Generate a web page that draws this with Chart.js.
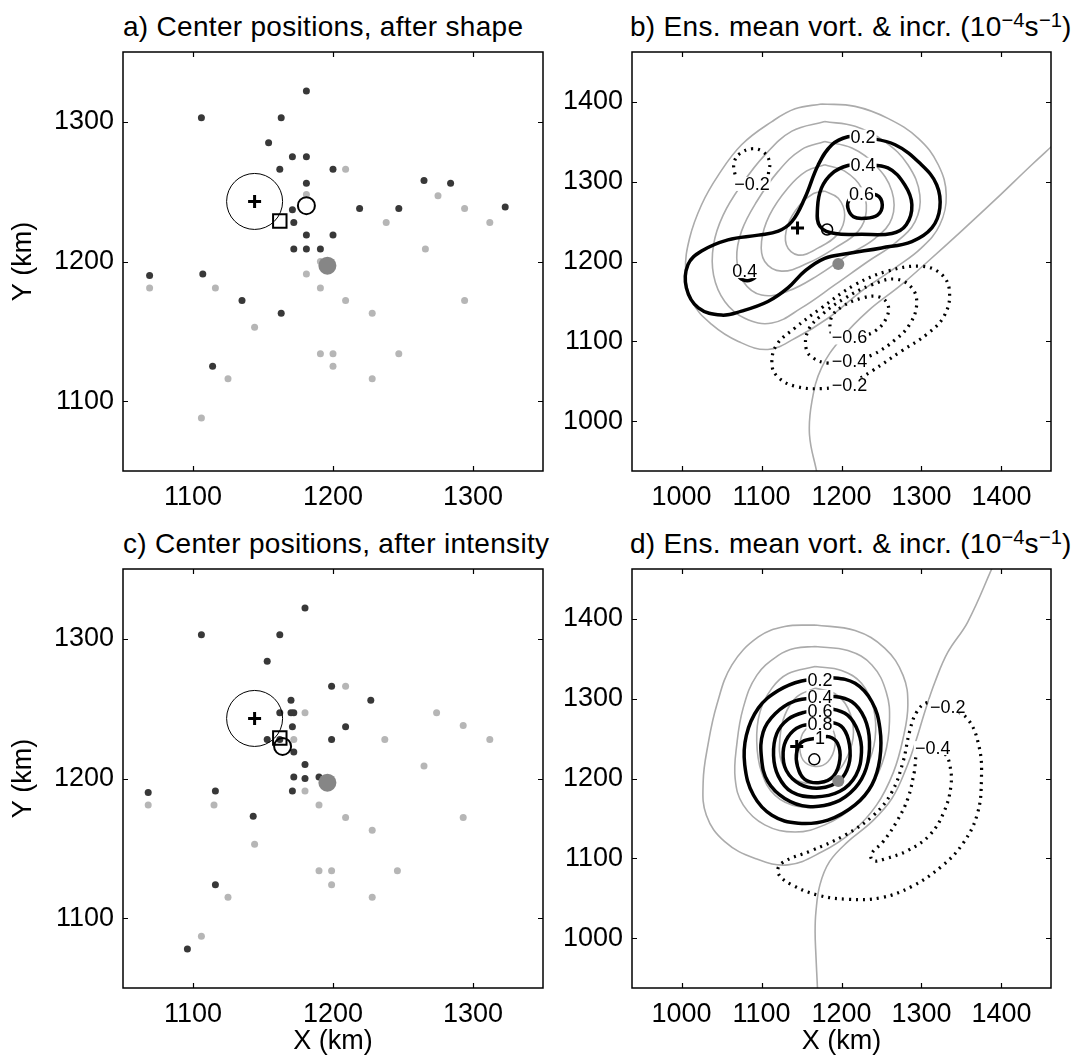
<!DOCTYPE html>
<html>
<head>
<meta charset="utf-8">
<script src="https://cdn.jsdelivr.net/npm/chart.js@4.4.0/dist/chart.umd.min.js"></script>
<style>
  body { margin: 0; background: #fff; }
  #fig { position: relative; width: 1073px; height: 1062px; overflow: hidden;
         font-family: "Liberation Sans", Arial, Helvetica, sans-serif; color: #000; }
  #fig canvas { position: absolute; }
  .ttl { position: absolute; font-size: 28px; line-height: 28px; letter-spacing: 0.3px; white-space: nowrap; }
  .ttl .sup { position: relative; top: -0.45em; font-size: 0.72em; letter-spacing: 0; }
</style>
</head>
<body>
<div id="fig">
  <div class="ttl" style="left:123px;top:13px">a) Center positions, after shape</div>
  <div class="ttl" style="left:630px;top:13px">b) Ens. mean vort. &amp; incr. (10<span class="sup">−4</span>s<span class="sup">−1</span>)</div>
  <div class="ttl" style="left:123px;top:530px">c) Center positions, after intensity</div>
  <div class="ttl" style="left:630px;top:530px">d) Ens. mean vort. &amp; incr. (10<span class="sup">−4</span>s<span class="sup">−1</span>)</div>
  <canvas id="pa" width="562" height="531" style="left:0;top:0"></canvas>
  <canvas id="pb" width="528" height="531" style="left:545px;top:0"></canvas>
  <canvas id="pc" width="562" height="531" style="left:0;top:531px"></canvas>
  <canvas id="pd" width="528" height="531" style="left:545px;top:531px"></canvas>
</div>
<script>
const FONT = '"Liberation Sans", Arial, Helvetica, sans-serif';

// axis ticks (km)
const ticksPos = [1100, 1200, 1300];
const ticksVort = [1000, 1100, 1200, 1300, 1400];

// ---- centre positions (km) ----
const membersA = [
  [1181,1322],[1106,1303],[1163,1303],[1154,1285],[1171,1275],[1181,1275],[1162,1266],[1200,1266],
  [1181,1256],[1265,1258],[1284,1256],[1171,1237],[1219,1238],[1247,1238],[1323,1239],[1172,1228],
  [1181,1219],[1200,1219],[1172,1209],[1181,1209],[1191,1209],[1069,1190],[1107,1191],[1135,1172],
  [1163,1163],[1114,1125]
];
const priorA = [
  [1209,1266],[1181,1248],[1275,1247],[1294,1238],[1238,1228],[1312,1228],[1266,1209],[1191,1200],
  [1181,1191],[1069,1181],[1116,1181],[1191,1181],[1209,1172],[1294,1172],[1228,1163],[1144,1153],
  [1191,1134],[1200,1134],[1247,1134],[1200,1125],[1125,1116],[1228,1116],[1106,1088]
];
const membersC = [
  [1180,1322],[1106,1303],[1162,1303],[1153,1284],[1199,1266],[1170,1256],[1227,1256],[1162,1247],
  [1170,1247],[1172,1247],[1171,1237],[1209,1237],[1153,1228],[1162,1228],[1199,1228],[1172,1219],
  [1180,1210],[1172,1201],[1180,1200],[1190,1201],[1068,1190],[1116,1191],[1171,1191],[1143,1173],
  [1116,1124],[1096,1078]
];
const priorC = [
  [1209,1266],[1180,1247],[1274,1247],[1293,1238],[1172,1228],[1237,1228],[1312,1228],[1265,1209],
  [1180,1191],[1068,1181],[1115,1181],[1190,1181],[1209,1172],[1293,1172],[1228,1163],[1144,1153],
  [1190,1134],[1199,1134],[1246,1134],[1199,1124],[1125,1115],[1228,1115],[1106,1087]
];
const truthA = [1144,1243], obsA = [1162,1229], meanA = [1181,1240], firstGuess = [1196,1197];
const truthC = [1144,1243], obsC = [1162,1229], meanC = [1164,1223];
const meanB = [1182,1240], meanD = [1166,1224], truthB = [1145,1242], truthD = [1144,1240];

// ---- panel b contours (km) ----
const vortB = [
  [[1175,1397],[1217,1394],[1258,1379],[1296,1354],[1321,1321],[1331,1283],[1323,1246],[1300,1217],[1267,1192],[1225,1163],[1183,1129],[1142,1104],[1108,1090],[1071,1100],[1038,1121],[1013,1150],[1005,1188],[1010,1229],[1025,1271],[1046,1308],[1075,1346],[1113,1375],[1142,1391]],
  [[1179,1375],[1217,1369],[1254,1350],[1283,1321],[1298,1283],[1292,1250],[1267,1223],[1233,1200],[1192,1171],[1150,1142],[1113,1123],[1079,1129],[1054,1150],[1040,1183],[1040,1221],[1052,1258],[1075,1296],[1104,1333],[1138,1363]],
  [[1179,1350],[1213,1342],[1242,1321],[1263,1288],[1263,1254],[1242,1229],[1208,1208],[1171,1183],[1133,1163],[1100,1158],[1077,1175],[1069,1204],[1075,1238],[1094,1275],[1121,1313],[1150,1340]],
  [[1179,1321],[1204,1313],[1225,1292],[1231,1263],[1221,1238],[1192,1217],[1158,1198],[1125,1188],[1104,1200],[1100,1225],[1110,1258],[1133,1292],[1156,1313]],
  [[1179,1288],[1196,1279],[1204,1258],[1196,1235],[1171,1217],[1146,1208],[1131,1221],[1133,1246],[1148,1271],[1165,1285]]
];
const zeroB = [[1169,937],[1160,983],[1163,1025],[1175,1067],[1200,1104],[1233,1138],[1275,1171],[1308,1200],[1350,1238],[1392,1277],[1438,1321],[1464,1345]];
const incrPosB = [
  [[1227,1356],[1267,1346],[1300,1321],[1319,1296],[1323,1267],[1313,1242],[1288,1225],[1250,1217],[1208,1210],[1179,1204],[1154,1188],[1133,1167],[1108,1150],[1075,1138],[1050,1133],[1021,1142],[1006,1167],[1008,1196],[1025,1213],[1058,1227],[1096,1233],[1121,1238],[1138,1250],[1154,1279],[1171,1321],[1188,1346],[1208,1356]],
  [[1227,1321],[1258,1317],[1279,1296],[1288,1271],[1281,1246],[1263,1235],[1225,1234],[1192,1235],[1173,1244],[1170,1267],[1175,1292],[1188,1310],[1208,1320]],
  [[1079,1187],[1071,1183],[1077,1177],[1087,1177],[1093,1183],[1088,1188]],
  [[1225,1284],[1244,1283],[1251,1271],[1245,1258],[1229,1254],[1215,1256],[1208,1267],[1210,1278],[1219,1283]]
];
const incrNegB = [
  [[1088,1297],[1071,1302],[1066,1313],[1066,1325],[1073,1335],[1088,1341],[1102,1337],[1110,1325],[1109,1313],[1106,1302]],
  [[1210,1046],[1175,1041],[1142,1044],[1121,1055],[1113,1071],[1119,1096],[1142,1117],[1175,1142],[1217,1171],[1258,1188],[1300,1194],[1325,1184],[1335,1163],[1329,1133],[1308,1110],[1275,1088],[1238,1063]],
  [[1210,1075],[1183,1073],[1165,1079],[1156,1090],[1158,1113],[1175,1133],[1204,1154],[1238,1171],[1267,1178],[1288,1167],[1294,1146],[1285,1121],[1267,1102],[1238,1083]],
  [[1210,1105],[1196,1103],[1188,1108],[1187,1129],[1200,1143],[1225,1154],[1246,1156],[1258,1146],[1256,1129],[1242,1113],[1222,1106]]
];
const labelsB = [
  ['0.2',1227,1356],['0.4',1227,1321],['0.6',1225,1284],['0.4',1079,1188],
  ['−0.2',1088,1297],['−0.6',1210,1105],['−0.4',1210,1075],['−0.2',1210,1046]
];

// ---- panel d contours (km) ----
const vortD = [
  [[1167,1392],[1217,1385],[1254,1363],[1277,1329],[1283,1292],[1277,1250],[1265,1208],[1244,1167],[1213,1133],[1175,1108],[1133,1092],[1092,1100],[1054,1121],[1031,1154],[1027,1196],[1033,1242],[1044,1292],[1063,1342],[1096,1377],[1129,1390]],
  [[1167,1365],[1208,1360],[1238,1342],[1256,1308],[1260,1271],[1254,1229],[1238,1192],[1213,1163],[1179,1142],[1142,1133],[1104,1142],[1077,1167],[1067,1200],[1069,1242],[1077,1288],[1094,1329],[1121,1354],[1142,1363]],
  [[1167,1340],[1200,1335],[1225,1319],[1240,1288],[1242,1250],[1231,1213],[1210,1183],[1179,1167],[1146,1165],[1117,1179],[1100,1208],[1094,1246],[1098,1283],[1113,1313],[1133,1331]],
  [[1167,1313],[1192,1306],[1208,1288],[1215,1258],[1208,1229],[1190,1204],[1165,1194],[1140,1200],[1125,1221],[1123,1250],[1129,1279],[1144,1302]],
  [[1173,1271],[1188,1263],[1192,1242],[1183,1221],[1167,1215],[1152,1223],[1148,1242],[1154,1260]]
];
const zeroD = [[1170,937],[1168,979],[1167,1008],[1168,1033],[1173,1067],[1185,1096],[1208,1121],[1238,1146],[1263,1175],[1281,1213],[1294,1250],[1304,1283],[1317,1321],[1333,1358],[1358,1396],[1390,1467]];
const incrPosD = [
  [[1173,1323],[1188,1326],[1217,1319],[1238,1296],[1248,1263],[1248,1225],[1238,1192],[1217,1167],[1183,1148],[1146,1144],[1113,1154],[1090,1179],[1079,1217],[1081,1254],[1096,1288],[1121,1310],[1150,1322]],
  [[1173,1301],[1188,1303],[1213,1296],[1229,1275],[1235,1246],[1231,1213],[1217,1188],[1192,1170],[1158,1165],[1129,1175],[1108,1196],[1100,1225],[1102,1258],[1117,1281],[1142,1297]],
  [[1173,1285],[1188,1287],[1208,1279],[1221,1258],[1225,1233],[1218,1204],[1198,1184],[1167,1177],[1138,1183],[1121,1203],[1115,1229],[1119,1256],[1133,1274],[1154,1283]],
  [[1173,1268],[1188,1270],[1202,1263],[1210,1242],[1209,1217],[1197,1197],[1173,1188],[1148,1193],[1131,1210],[1127,1233],[1133,1252],[1148,1265]],
  [[1173,1251],[1185,1252],[1195,1244],[1198,1224],[1190,1203],[1173,1195],[1154,1199],[1145,1215],[1144,1233],[1151,1246]]
];
const incrNegD = [
  [[1333,1290],[1308,1295],[1294,1283],[1285,1258],[1277,1221],[1263,1183],[1240,1154],[1204,1129],[1163,1110],[1125,1094],[1121,1081],[1138,1067],[1171,1054],[1208,1049],[1250,1051],[1288,1065],[1325,1090],[1352,1119],[1370,1156],[1375,1200],[1372,1240],[1358,1274]],
  [[1314,1238],[1296,1233],[1291,1208],[1283,1175],[1269,1146],[1252,1121],[1237,1105],[1240,1097],[1256,1100],[1283,1110],[1310,1129],[1328,1158],[1337,1192],[1335,1219],[1329,1231]]
];
const labelsD = [
  ['0.2',1173,1323],['0.4',1173,1302],['0.6',1173,1285],['0.8',1173,1268],['1',1173,1251],
  ['−0.2',1333,1290],['−0.4',1314,1238]
];

const xyPts = arr => arr.map(([x, y]) => ({ x, y }));
const loop = arr => xyPts(arr.concat([arr[0]]));

// box with inward ticks on all four sides
const framePlugin = {
  id: 'frame',
  afterDraw(chart) {
    const { ctx, chartArea: a, scales: { x, y } } = chart;
    ctx.save();
    ctx.strokeStyle = '#000';
    ctx.lineWidth = 1.5;
    ctx.strokeRect(a.left, a.top, a.right - a.left, a.bottom - a.top);
    ctx.beginPath();
    x.ticks.forEach(t => {
      const p = Math.round(x.getPixelForValue(t.value)) + 0.5;
      ctx.moveTo(p, a.bottom); ctx.lineTo(p, a.bottom - 5);
      ctx.moveTo(p, a.top); ctx.lineTo(p, a.top + 5);
    });
    y.ticks.forEach(t => {
      const p = Math.round(y.getPixelForValue(t.value)) + 0.5;
      ctx.moveTo(a.left, p); ctx.lineTo(a.left + 5, p);
      ctx.moveTo(a.right, p); ctx.lineTo(a.right - 5, p);
    });
    ctx.lineWidth = 1.2;
    ctx.stroke();
    ctx.restore();
  }
};

// inline contour labels
const labelPlugin = {
  id: 'clabels',
  afterDatasetsDraw(chart, args, opts) {
    const items = opts.items || [];
    if (!items.length) return;
    const { ctx, scales: { x, y } } = chart;
    ctx.save();
    ctx.font = '18px ' + FONT;
    ctx.textAlign = 'center';
    ctx.textBaseline = 'middle';
    items.forEach(([txt, vx, vy]) => {
      const px = x.getPixelForValue(vx), py = y.getPixelForValue(vy);
      const w = ctx.measureText(txt).width;
      ctx.fillStyle = '#fff';
      ctx.fillRect(px - w / 2 - 1, py - 7, w + 2, 14);
      ctx.fillStyle = '#000';
      ctx.fillText(txt, px, py + 1);
    });
    ctx.restore();
  }
};

const fixedTicks = vals => s => { s.ticks = vals.map(v => ({ value: v })); };
const tickFont = { family: FONT, size: 27 };

function options(cfg) {
  return {
    responsive: false,
    animation: false,
    events: [],
    layout: { autoPadding: false, padding: { left: 0, top: cfg.padTop, right: cfg.padRight, bottom: 0 } },
    plugins: { legend: { display: false }, tooltip: { enabled: false }, clabels: { items: cfg.labels || [] } },
    scales: {
      x: {
        type: 'linear', min: cfg.range[0], max: cfg.range[1],
        grid: { display: false, drawTicks: false },
        border: { display: false },
        ticks: { padding: 10, color: '#000', font: tickFont, maxRotation: 0, autoSkip: false, callback: v => String(v) },
        afterBuildTicks: fixedTicks(cfg.ticks),
        afterFit: s => { s.height = cfg.xAxisH; },
        title: { display: !!cfg.xTitle, text: cfg.xTitle || '', color: '#000', font: tickFont, padding: { top: 0, bottom: 4 } }
      },
      y: {
        type: 'linear', min: cfg.range[0], max: cfg.range[1],
        grid: { display: false, drawTicks: false },
        border: { display: false },
        ticks: { padding: 9, color: '#000', font: tickFont, autoSkip: false, callback: v => String(v) },
        afterBuildTicks: fixedTicks(cfg.ticks),
        afterFit: s => { s.width = cfg.yAxisW; },
        title: { display: !!cfg.yTitle, text: cfg.yTitle || '', color: '#000', font: tickFont, padding: { top: 7, bottom: 0 } }
      }
    }
  };
}

function marker(p, style, radius, width, color, order, fill) {
  return {
    data: xyPts([p]), pointStyle: style, pointRadius: radius, pointBorderWidth: width,
    pointBorderColor: color, pointBackgroundColor: fill || 'rgba(0,0,0,0)', order
  };
}

function dots(arr, color, order) {
  return { data: xyPts(arr), pointRadius: 3.5, pointBorderWidth: 0, pointBackgroundColor: color, order };
}

function positionPanel(id, members, prior, truth, obs, mean, cfg) {
  new Chart(document.getElementById(id), {
    type: 'scatter',
    data: {
      datasets: [
        marker(truth, 'cross', 6.5, 3, '#000', 0),
        marker(mean, 'circle', 8.5, 2, '#000', 1),
        marker(obs, 'rect', 9.5, 2, '#000', 2),
        marker(firstGuess, 'circle', 9, 0, '#868686', 3, '#868686'),
        marker(truth, 'circle', 28, 1, '#000', 4),
        dots(members, '#383838', 5),
        dots(prior, '#b6b6b6', 6)
      ]
    },
    options: options(cfg),
    plugins: [framePlugin]
  });
}

function contourPanel(id, vort, zero, pos, neg, truth, mean, cfg) {
  const sets = [];
  vort.forEach(c => sets.push({ data: loop(c), showLine: true, pointRadius: 0, borderColor: '#ababab', borderWidth: 1.6, tension: 0.4, order: 9 }));
  sets.push({ data: xyPts(zero), showLine: true, pointRadius: 0, borderColor: '#ababab', borderWidth: 1.6, tension: 0.4, order: 9 });
  neg.forEach(c => sets.push({ data: loop(c), showLine: true, pointRadius: 0, borderColor: '#000', borderWidth: 3.2, borderDash: [2, 5], borderCapStyle: 'butt', tension: 0.4, order: 8 }));
  pos.forEach(c => sets.push({ data: loop(c), showLine: true, pointRadius: 0, borderColor: '#000', borderWidth: 3.5, tension: 0.4, order: 7 }));
  sets.push(marker(firstGuess, 'circle', 6, 0, '#868686', 3, '#868686'));
  sets.push(marker(mean, 'circle', 5.5, 1.5, '#000', 2));
  sets.push(marker(truth, 'cross', 6.5, 3, '#000', 1));
  new Chart(document.getElementById(id), {
    type: 'scatter',
    data: { datasets: sets },
    options: options(cfg),
    plugins: [labelPlugin, framePlugin]
  });
}

positionPanel('pa', membersA, priorA, truthA, obsA, meanA,
  { range: [1050, 1350], ticks: ticksPos, padTop: 52, padRight: 19, yAxisW: 123, xAxisH: 60, yTitle: 'Y (km)' });
positionPanel('pc', membersC, priorC, truthC, obsC, meanC,
  { range: [1050, 1350], ticks: ticksPos, padTop: 38, padRight: 19, yAxisW: 123, xAxisH: 74, yTitle: 'Y (km)', xTitle: 'X (km)' });
contourPanel('pb', vortB, zeroB, incrPosB, incrNegB, truthB, meanB,
  { range: [938, 1462], ticks: ticksVort, padTop: 52, padRight: 22, yAxisW: 87, xAxisH: 60, labels: labelsB });
contourPanel('pd', vortD, zeroD, incrPosD, incrNegD, truthD, meanD,
  { range: [938, 1462], ticks: ticksVort, padTop: 38, padRight: 22, yAxisW: 87, xAxisH: 74, labels: labelsD, xTitle: 'X (km)' });
</script>
</body>
</html>
